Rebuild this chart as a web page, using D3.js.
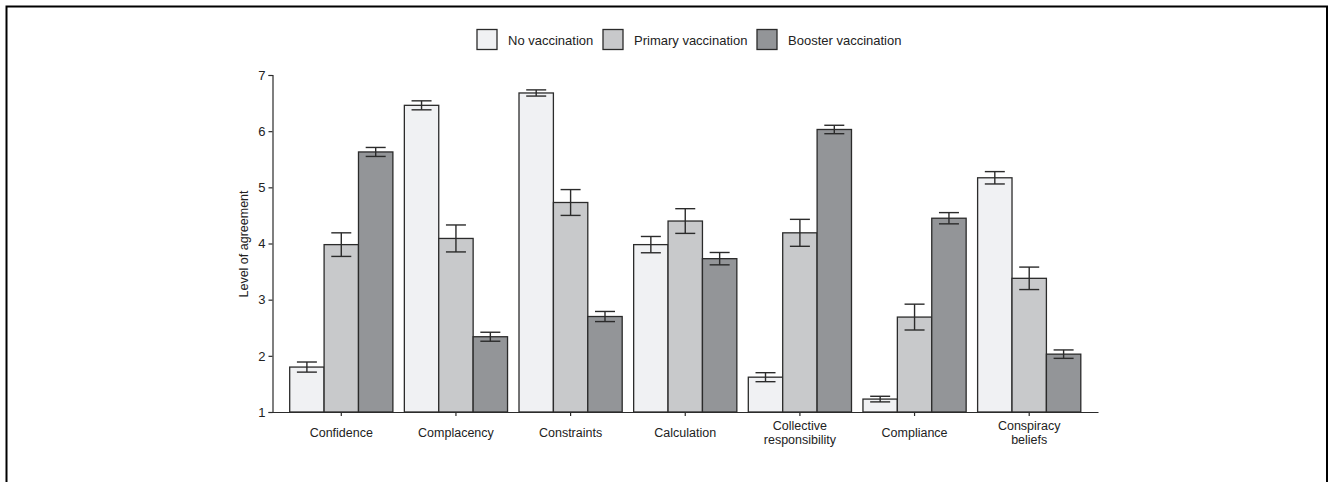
<!DOCTYPE html>
<html>
<head>
<meta charset="utf-8">
<script src="https://cdn.jsdelivr.net/npm/d3@7"></script>
<style>
  body { margin: 0; background: #fff; }
  svg text { font-family: "Liberation Sans", Arial, sans-serif; fill: #222; }
</style>
</head>
<body>
<svg id="chart" width="1329" height="482"></svg>
<script>
// categories and series
const categories = [
  ['Confidence'], ['Complacency'], ['Constraints'], ['Calculation'],
  ['Collective', 'responsibility'], ['Compliance'], ['Conspiracy', 'beliefs']
]
const seriesNames = ['No vaccination', 'Primary vaccination', 'Booster vaccination']

const noVacc = [1.80, 6.46, 6.68, 3.98, 1.62, 1.23, 5.17]
const noVaccErr = [0.09, 0.08, 0.055, 0.145, 0.08, 0.05, 0.11]
const primary = [3.98, 4.09, 4.73, 4.40, 4.19, 2.69, 3.38]
const primaryErr = [0.21, 0.24, 0.23, 0.22, 0.24, 0.23, 0.20]
const booster = [5.63, 2.34, 2.70, 3.73, 6.03, 4.45, 2.03]
const boosterErr = [0.08, 0.08, 0.09, 0.11, 0.075, 0.10, 0.075]

const yTicks = [1, 2, 3, 4, 5, 6, 7]

const colors = ['#f0f1f3', '#c8c9cb', '#939598']
const stroke = '#2b2b2b'

let svg = d3.select('#chart')

// outer frame (top, left, right only)
svg.append('path')
    .attr('d', 'M6.5,482 L6.5,6.5 L1327,6.5 L1327,482')
    .attr('fill', 'none')
    .attr('stroke', '#000')
    .attr('stroke-width', 2)

let plotLeft = 272.5, plotRight = 1098, plotTop = 75, plotBottom = 412

let x = d3.scaleBand()
    .domain(d3.range(categories.length))
    .range([plotLeft, plotRight])
    .paddingInner(0.1)
    .paddingOuter(0.15)

let xs = d3.scaleBand()
    .domain(d3.range(seriesNames.length))
    .range([0, x.bandwidth()])

let y = d3.scaleLinear()
    .domain([1, 7])
    .range([plotBottom, plotTop])

let values = [noVacc, primary, booster]
let errs = [noVaccErr, primaryErr, boosterErr]

// bars
for (let s = 0; s < values.length; s++) {
  svg.append('g')
      .attr('class', 'bar' + s)
    .selectAll('rect')
      .data(values[s])
    .enter().append('rect')
      .attr('x', (d, i) => x(i) + xs(s))
      .attr('y', d => y(d))
      .attr('width', xs.bandwidth())
      .attr('height', d => y(1) - y(d))
      .attr('fill', colors[s])
      .attr('stroke', stroke)
      .attr('stroke-width', 1.3)
}

// error bars
for (let s = 0; s < values.length; s++) {
  let g = svg.append('g').attr('class', 'err' + s)
      .attr('stroke', stroke)
      .attr('stroke-width', 1.4)
  values[s].forEach((v, i) => {
    let cx = x(i) + xs(s) + xs.bandwidth() / 2
    let hi = y(v + errs[s][i]), lo = y(v - errs[s][i])
    g.append('line').attr('x1', cx).attr('x2', cx).attr('y1', hi).attr('y2', lo)
    g.append('line').attr('x1', cx - 10).attr('x2', cx + 10).attr('y1', hi).attr('y2', hi)
    g.append('line').attr('x1', cx - 10).attr('x2', cx + 10).attr('y1', lo).attr('y2', lo)
  })
}

// y axis
let yAxis = svg.append('g')
    .attr('transform', 'translate(' + plotLeft + ',0)')
    .call(d3.axisLeft(y).tickValues(yTicks).tickSize(4).tickPadding(3).tickFormat(d3.format('d')))
yAxis.selectAll('line, path').attr('stroke', stroke).attr('stroke-width', 1.2)
yAxis.selectAll('text').attr('font-size', 13).attr('fill', '#222')

// x axis
let xAxis = svg.append('g')
    .attr('transform', 'translate(0,' + plotBottom + ')')
    .call(d3.axisBottom(x).tickSize(4).tickSizeOuter(0).tickFormat(''))
xAxis.selectAll('line, path').attr('stroke', stroke).attr('stroke-width', 1.2)

// x labels, possibly two lines
categories.forEach((lines, i) => {
  let cx = x(i) + x.bandwidth() / 2
  let t = svg.append('text')
      .attr('text-anchor', 'middle')
      .attr('font-size', 12.5)
  let y0 = lines.length === 1 ? 437 : 430
  lines.forEach((ln, j) => {
    t.append('tspan').attr('x', cx).attr('y', y0 + j * 13.5).text(ln)
  })
})

// y title
svg.append('text')
    .attr('transform', 'translate(248,244) rotate(-90)')
    .attr('text-anchor', 'middle')
    .attr('font-size', 12.5)
    .text('Level of agreement')

// legend
let legendX = [477, 603, 757]
let legend = svg.append('g').attr('class', 'legend')
seriesNames.forEach((name, i) => {
  legend.append('rect')
      .attr('x', legendX[i])
      .attr('y', 29.5)
      .attr('width', 20)
      .attr('height', 20)
      .attr('fill', colors[i])
      .attr('stroke', stroke)
      .attr('stroke-width', 1.3)
  legend.append('text')
      .attr('x', legendX[i] + 31)
      .attr('y', 44.5)
      .attr('font-size', 13)
      .text(name)
})
</script>
</body>
</html>
